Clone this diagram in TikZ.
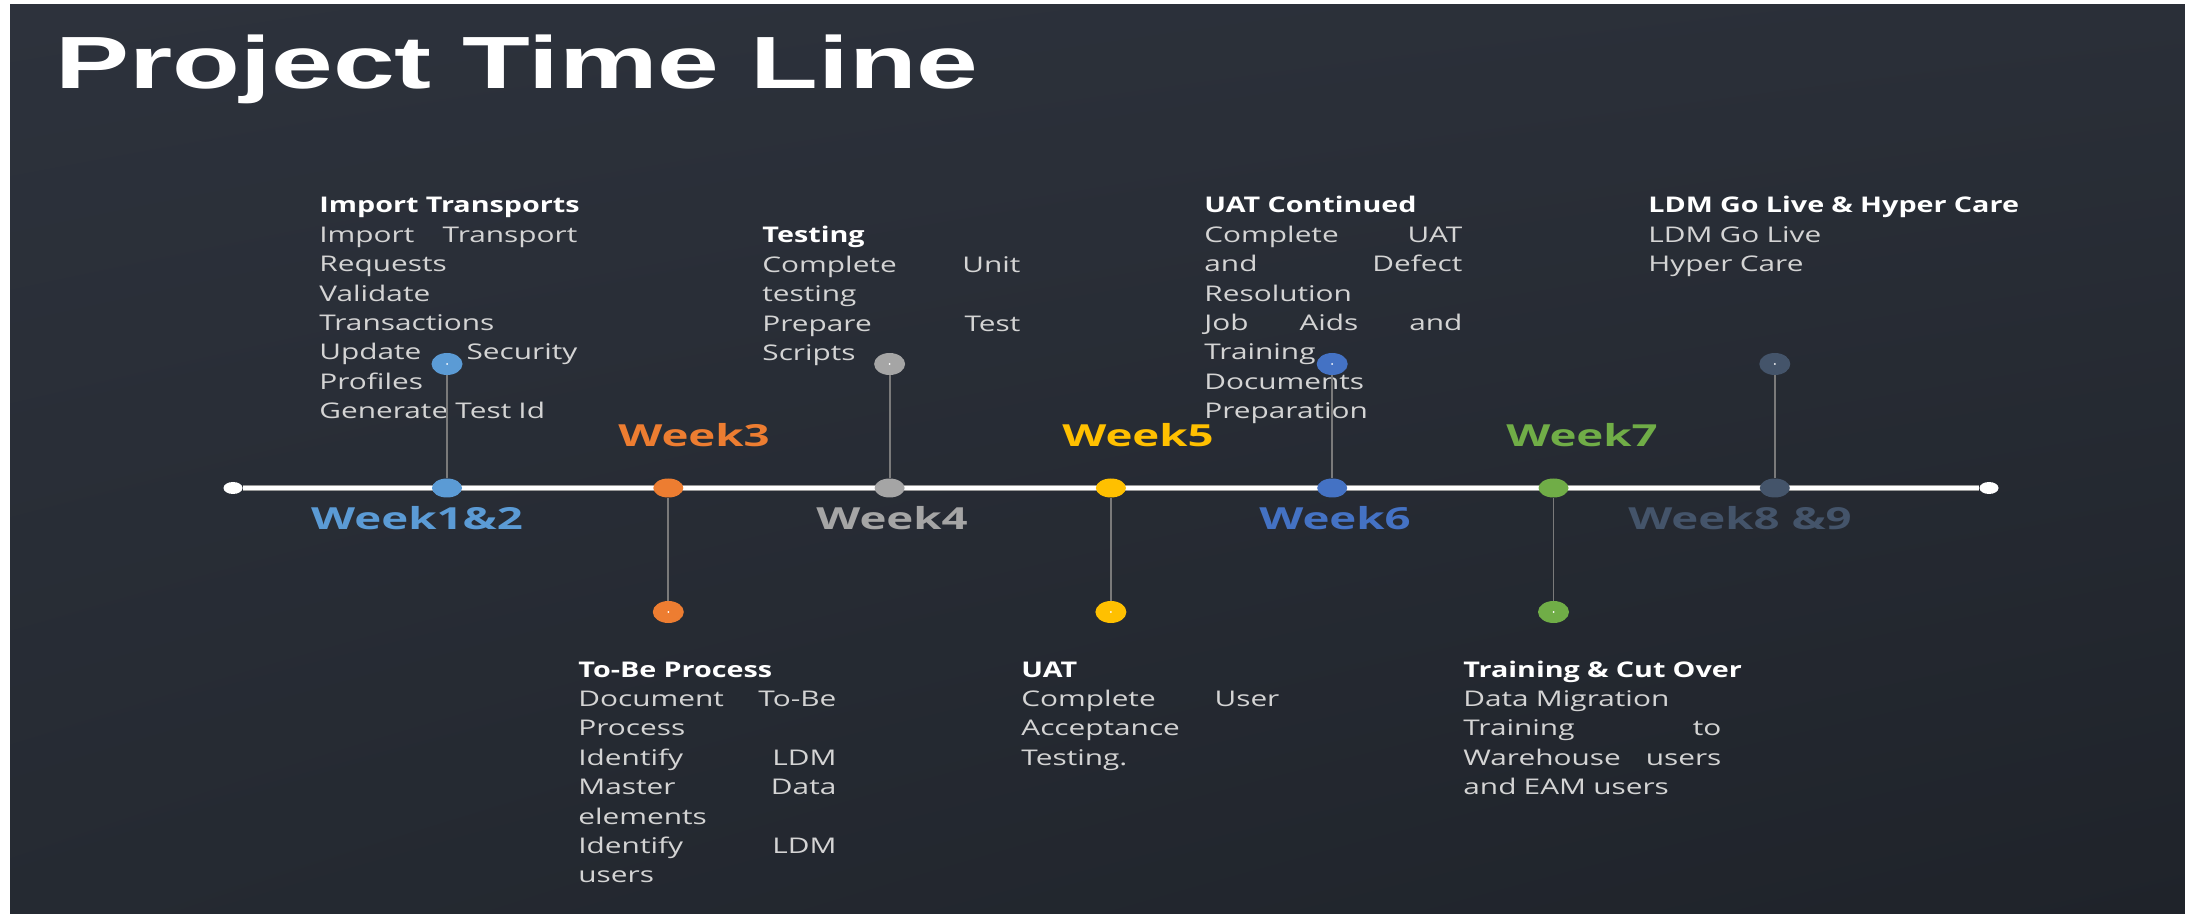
\documentclass[tikz,border=0pt]{standalone}
\usepackage{fontspec}
\setmainfont{Open Sans}[FakeStretch=1.38, BoldFeatures={FakeStretch=1.33}]
\newfontfamily\titlefont{Liberation Sans}[FakeStretch=1.5]
\newfontfamily\weekfont{Open Sans}[FakeStretch=1.5]
\usetikzlibrary{shapes.geometric,shadings}
\definecolor{bgUL}{HTML}{2D323C}
\definecolor{bgUR}{HTML}{2A2F38}
\definecolor{bgLL}{HTML}{252A32}
\definecolor{bgLR}{HTML}{1F232A}
\definecolor{bodygray}{HTML}{D4D4D4}
\definecolor{stemgray}{HTML}{7A7A7A}
\definecolor{wkA}{HTML}{5B9BD5}
\definecolor{wkB}{HTML}{ED7D31}
\definecolor{wkC}{HTML}{A5A5A5}
\definecolor{wkD}{HTML}{FFC000}
\definecolor{wkE}{HTML}{4472C4}
\definecolor{wkF}{HTML}{70AD47}
\definecolor{wkG}{HTML}{44546A}
\newcommand{\head}[1]{\makebox[\linewidth][l]{\bfseries\color{white}#1}}
\tikzset{
  enddot/.style={ellipse, fill=white, inner sep=0pt, minimum width=9.5pt, minimum height=6pt},
  dot/.style={ellipse, inner sep=0pt, minimum width=15pt, minimum height=9.5pt},
  pin/.style={ellipse, inner sep=0pt, minimum width=15.5pt, minimum height=11pt},
  axis/.style={draw=gray!80, double=white, double distance=1.8pt, line width=0.4pt},
  stem/.style={draw=stemgray, line width=0.9pt},
  week/.style={anchor=base, font=\weekfont\fontsize{15.2}{18}\selectfont\bfseries},
  info/.style={anchor=base west, inner sep=0pt, text width=129pt, align=left,
    text=bodygray, font=\fontsize{10.8}{14.7}\selectfont}
}
\begin{document}
\begin{tikzpicture}[x=0.5pt,y=-0.5pt]
  \useasboundingbox (0,0) rectangle (2185,914);
  \fill[white] (0,0) rectangle (2185,914);
  \shade[upper left=bgUL, upper right=bgUR, lower left=bgLL, lower right=bgLR]
    (10,5) rectangle (2185,914);

  \node[anchor=base west, inner sep=0pt, text=white, font=\titlefont\fontsize{37}{40}\selectfont\bfseries]
    (title) at (55,89) {Project Time Line};

  % text above the line
  \node[info] (import) at (319,213) {\head{Import Transports}\\
    Import\hfill Transport\\ Requests\\ Validate\\ Transactions\\
    Update\hfill Security\\ Profiles\\ Generate Test Id};
  \node[info] (testing) at (762,243) {\head{Testing}\\
    Complete\hfill Unit\\ testing\\ Prepare\hfill Test\\ Scripts};
  \node[info] (uatcont) at (1204,213) {\head{UAT Continued}\\
    Complete\hfill UAT\\ and\hfill Defect\\ Resolution\\ Job\hfill Aids\hfill and\\
    Training\\ Documents\\ Preparation};
  \node[info] (golive) at (1648,213) {\head{LDM Go Live \& Hyper Care}\\
    LDM Go Live\\ Hyper Care};

  % text below the line
  \node[info] (tobe) at (578,677) {\head{To-Be Process}\\
    Document\hfill To-Be\\ Process\\ Identify\hfill LDM\\ Master\hfill Data\\
    elements\\ Identify\hfill LDM\\ users};
  \node[info] (uat) at (1021,677) {\head{UAT}\\
    Complete\hfill User\\ Acceptance\\ Testing.};
  \node[info] (cutover) at (1463,677) {\head{Training \& Cut Over}\\
    Data Migration\\ Training\hfill to\\ Warehouse\hfill users\\ and EAM users};

  % time line
  \node[enddot] (start) at (233,488) {};
  \node[enddot] (finish) at (1989,488) {};
  \draw[axis] (start) -- (finish);

  \foreach \i/\c/\t/\lx/\py/\ly in {
      1/wkA/{Week1\&2}/417/364/530, 2/wkB/Week3/694/612/447,
      3/wkC/Week4/892/364/530, 4/wkD/Week5/1138/612/447,
      5/wkE/Week6/1335/364/530, 6/wkF/Week7/1582/612/447,
      7/wkG/{Week8 \&9}/1740/364/530} {
    \pgfmathsetmacro\mx{447+221.3*(\i-1)}
    \node[dot, fill=\c] (m\i) at (\mx,488) {};
    \node[pin, fill=\c] (p\i) at (\mx,\py) {};
    \fill[white] (p\i) circle[radius=0.5pt];
    \draw[stem] (m\i) -- (p\i);
    \node[week, text=\c] (w\i) at (\lx,\ly) {\t};
  }
\end{tikzpicture}
\end{document}
